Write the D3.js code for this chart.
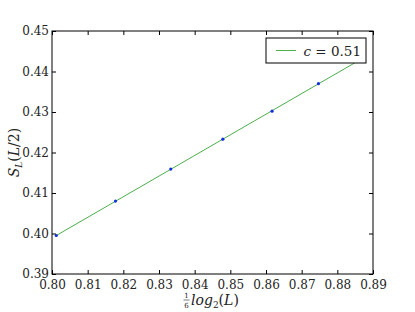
<!DOCTYPE html>
<html>
<head>
<meta charset="utf-8">
<script src="https://cdn.jsdelivr.net/npm/d3@7"></script>
<style>
  html, body { margin: 0; padding: 0; background: #fff; }
  svg { display: block; }
  svg text { font-family: "DejaVu Serif", "Liberation Serif", serif; fill: #222; }
</style>
</head>
<body>
<div id="chart"></div>
<script>
// (1/6) log2(L) for L = 28 .. 38
const xVals = [0.8012, 0.8178, 0.8333, 0.8479, 0.8617, 0.8747];
const yVals = [0.3995, 0.4080, 0.4159, 0.4233, 0.4302, 0.4370];
const fitX = [0.8012, 0.8860];
const fitY = [0.3995, 0.4427];
const xTicks = [0.80, 0.81, 0.82, 0.83, 0.84, 0.85, 0.86, 0.87, 0.88, 0.89];
const yTicks = [0.39, 0.40, 0.41, 0.42, 0.43, 0.44, 0.45];
const legendLabel = "c = 0.51";

const W = 415, H = 312;
const margin = { top: 31, right: 42, bottom: 38, left: 52 };
const iw = W - margin.left - margin.right;
const ih = H - margin.top - margin.bottom;
const serif = '"DejaVu Serif", "Liberation Serif", serif';

const svg = d3.select("#chart").append("svg")
  .attr("width", W).attr("height", H)
  .attr("font-family", serif);

const g = svg.append("g")
  .attr("transform", `translate(${margin.left},${margin.top})`);

const x = d3.scaleLinear().domain([0.80, 0.89]).range([0, iw]);
const y = d3.scaleLinear().domain([0.39, 0.45]).range([ih, 0]);

// fit line
const fit = fitX.map((v, i) => [v, fitY[i]]);
g.append("path")
  .datum(fit)
  .attr("fill", "none")
  .attr("stroke", "#4caf4c")
  .attr("stroke-width", 1)
  .attr("d", d3.line().x(d => x(d[0])).y(d => y(d[1])));

// data points
g.selectAll("circle.pt")
  .data(xVals.map((v, i) => [v, yVals[i]]))
  .join("circle")
  .attr("class", "pt")
  .attr("cx", d => x(d[0]))
  .attr("cy", d => y(d[1]))
  .attr("r", 1.6)
  .attr("fill", "#1030e0");

// axes with inward ticks
const fmt = d3.format(".2f");
const xb = g.append("g").attr("transform", `translate(0,${ih})`)
  .call(d3.axisBottom(x).tickValues(xTicks).tickFormat(fmt).tickSizeInner(-4).tickSizeOuter(0).tickPadding(6));
const xt = g.append("g")
  .call(d3.axisTop(x).tickValues(xTicks).tickFormat("").tickSizeInner(-4).tickSizeOuter(0));
const yl = g.append("g")
  .call(d3.axisLeft(y).tickValues(yTicks).tickFormat(fmt).tickSizeInner(-4).tickSizeOuter(0).tickPadding(3));
const yr = g.append("g").attr("transform", `translate(${iw},0)`)
  .call(d3.axisRight(y).tickValues(yTicks).tickFormat("").tickSizeInner(-4).tickSizeOuter(0));

[xb, xt, yl, yr].forEach(a => {
  a.attr("font-family", serif);
  a.select(".domain").remove();
  a.selectAll("line").attr("stroke", "#000");
  a.selectAll("text").attr("font-size", 12).attr("fill", "#222");
});

g.append("rect")
  .attr("width", iw).attr("height", ih)
  .attr("fill", "none").attr("stroke", "#000").attr("stroke-width", 1);

// legend
const leg = g.append("g").attr("transform", `translate(214,7)`);
leg.append("rect")
  .attr("width", 100).attr("height", 25)
  .attr("fill", "#fff").attr("stroke", "#000").attr("stroke-width", 1);
leg.append("line")
  .attr("x1", 10).attr("x2", 30).attr("y1", 12.5).attr("y2", 12.5)
  .attr("stroke", "#4caf4c");
const lt = leg.append("text").attr("x", 95).attr("y", 17.5)
  .attr("text-anchor", "end").attr("font-size", 13.5);
lt.append("tspan").attr("font-style", "italic").text("c");
lt.append("tspan").text(legendLabel.slice(1));

// x label: (1/6) log2(L)
const xl = svg.append("g").attr("transform", `translate(183,305)`);
xl.append("text").attr("x", 3.5).attr("y", -7).attr("font-size", 7).attr("text-anchor", "middle").text("1");
xl.append("line").attr("x1", 0.5).attr("x2", 6.5).attr("y1", -5).attr("y2", -5).attr("stroke", "#222").attr("stroke-width", 0.6);
xl.append("text").attr("x", 3.5).attr("y", 3).attr("font-size", 7).attr("text-anchor", "middle").text("6");
const xlt = xl.append("text").attr("x", 8).attr("y", 0).attr("font-size", 14);
xlt.append("tspan").attr("font-style", "italic").text("log");
xlt.append("tspan").attr("font-size", 9).attr("dy", 3).text("2");
xlt.append("tspan").attr("dy", -3).text("(");
xlt.append("tspan").attr("font-style", "italic").text("L");
xlt.append("tspan").text(")");

// y label: S_L(L/2)
const ylt = svg.append("text")
  .attr("transform", `translate(19,${margin.top + ih / 2}) rotate(-90)`)
  .attr("text-anchor", "middle").attr("font-size", 14);
ylt.append("tspan").attr("font-style", "italic").text("S");
ylt.append("tspan").attr("font-style", "italic").attr("font-size", 9).attr("dy", 3).text("L");
ylt.append("tspan").attr("dy", -3).text("(");
ylt.append("tspan").attr("font-style", "italic").text("L");
ylt.append("tspan").text("/2)");
</script>
</body>
</html>
